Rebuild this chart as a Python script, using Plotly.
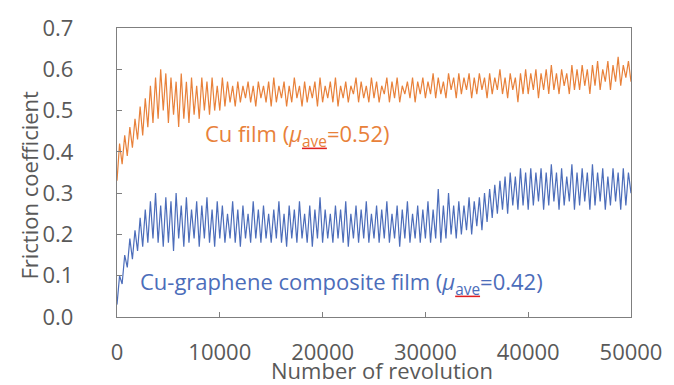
import plotly.graph_objects as go

step = 250
cu_film = [
    0.33, 0.42, 0.37, 0.44, 0.39, 0.46, 0.41, 0.48, 0.43, 0.51, 0.44, 0.53, 0.46, 0.56, 0.47, 0.58, 0.48, 0.60, 0.50, 0.59,
    0.47, 0.58, 0.49, 0.57, 0.46, 0.59, 0.48, 0.57, 0.47, 0.58, 0.49, 0.56, 0.48, 0.58, 0.50, 0.57, 0.49, 0.58, 0.50, 0.56,
    0.50, 0.58, 0.51, 0.57, 0.52, 0.56, 0.51, 0.57, 0.52, 0.56, 0.53, 0.57, 0.52, 0.56, 0.51, 0.57, 0.53, 0.56, 0.52, 0.57,
    0.51, 0.58, 0.52, 0.56, 0.53, 0.57, 0.51, 0.56, 0.52, 0.58, 0.53, 0.56, 0.51, 0.57, 0.52, 0.56, 0.53, 0.57, 0.51, 0.58,
    0.52, 0.56, 0.53, 0.57, 0.52, 0.58, 0.51, 0.56, 0.53, 0.57, 0.52, 0.56, 0.54, 0.58, 0.52, 0.57, 0.53, 0.56, 0.52, 0.58,
    0.53, 0.57, 0.52, 0.56, 0.54, 0.58, 0.52, 0.57, 0.53, 0.58, 0.52, 0.56, 0.54, 0.57, 0.53, 0.58, 0.52, 0.57, 0.54, 0.58,
    0.53, 0.57, 0.54, 0.59, 0.53, 0.58, 0.54, 0.57, 0.53, 0.59, 0.55, 0.58, 0.53, 0.59, 0.54, 0.58, 0.55, 0.59, 0.53, 0.58,
    0.54, 0.59, 0.55, 0.58, 0.53, 0.59, 0.54, 0.58, 0.55, 0.60, 0.54, 0.58, 0.53, 0.59, 0.55, 0.58, 0.52, 0.59, 0.54, 0.60,
    0.54, 0.59, 0.55, 0.60, 0.53, 0.59, 0.55, 0.60, 0.54, 0.61, 0.55, 0.59, 0.54, 0.60, 0.56, 0.59, 0.54, 0.61, 0.55, 0.60,
    0.55, 0.61, 0.56, 0.60, 0.54, 0.61, 0.56, 0.62, 0.55, 0.60, 0.57, 0.62, 0.55, 0.61, 0.57, 0.63, 0.56, 0.61, 0.58, 0.62, 0.57,
]
cu_graphene = [
    0.03, 0.10, 0.08, 0.15, 0.12, 0.19, 0.14, 0.21, 0.16, 0.24, 0.17, 0.26, 0.18, 0.28, 0.19, 0.30, 0.18, 0.27, 0.17, 0.29,
    0.18, 0.28, 0.16, 0.30, 0.19, 0.27, 0.17, 0.29, 0.18, 0.26, 0.19, 0.28, 0.17, 0.27, 0.19, 0.29, 0.18, 0.26, 0.17, 0.28,
    0.19, 0.27, 0.18, 0.25, 0.19, 0.28, 0.18, 0.26, 0.17, 0.27, 0.19, 0.25, 0.18, 0.28, 0.19, 0.26, 0.18, 0.27, 0.19, 0.25,
    0.18, 0.26, 0.19, 0.28, 0.18, 0.25, 0.17, 0.27, 0.19, 0.26, 0.18, 0.28, 0.19, 0.25, 0.18, 0.27, 0.17, 0.26, 0.19, 0.29,
    0.18, 0.26, 0.19, 0.25, 0.18, 0.27, 0.19, 0.26, 0.18, 0.28, 0.17, 0.25, 0.19, 0.27, 0.18, 0.26, 0.19, 0.28, 0.18, 0.25,
    0.19, 0.27, 0.18, 0.26, 0.19, 0.28, 0.18, 0.25, 0.19, 0.27, 0.17, 0.26, 0.19, 0.28, 0.18, 0.25, 0.19, 0.27, 0.18, 0.26,
    0.19, 0.28, 0.18, 0.26, 0.19, 0.31, 0.18, 0.27, 0.19, 0.30, 0.20, 0.27, 0.19, 0.28, 0.20, 0.27, 0.21, 0.29, 0.20, 0.28,
    0.22, 0.29, 0.21, 0.30, 0.23, 0.31, 0.24, 0.32, 0.25, 0.33, 0.26, 0.34, 0.25, 0.35, 0.27, 0.34, 0.26, 0.36, 0.27, 0.35,
    0.26, 0.36, 0.27, 0.35, 0.28, 0.36, 0.26, 0.35, 0.27, 0.37, 0.28, 0.35, 0.26, 0.36, 0.27, 0.34, 0.28, 0.37, 0.26, 0.35,
    0.27, 0.36, 0.28, 0.35, 0.26, 0.37, 0.27, 0.35, 0.28, 0.36, 0.26, 0.34, 0.27, 0.36, 0.28, 0.35, 0.26, 0.36, 0.27, 0.35, 0.30,
]
revolutions = [i * step for i in range(len(cu_film))]

x_ticks = [0, 10000, 20000, 30000, 40000, 50000]
y_ticks = [0.0, 0.1, 0.2, 0.3, 0.4, 0.5, 0.6, 0.7]
y_labels = ["0.0", "0.1", "0.2", "0.3", "0.4", "0.5", "0.6", "0.7"]

orange = "#E8813A"
blue = "#4C6DBA"
gray = "#595959"
font_family = "Open Sans"


def ave_sub(color):
    return ("<span style='text-decoration:underline;color:#e02020'>"
            "<span style='color:" + color + "'>ave</span></span>")


fig = go.Figure()
fig.add_trace(go.Scatter(x=revolutions, y=cu_film, mode="lines",
                         line=dict(color=orange, width=1.2), showlegend=False))
fig.add_trace(go.Scatter(x=revolutions, y=cu_graphene, mode="lines",
                         line=dict(color=blue, width=1.2), showlegend=False))

fig.add_annotation(x=17550, y=0.44, xref="x", yref="y", showarrow=False,
                   text="Cu film (<i>μ</i><sub>" + ave_sub(orange) + "</sub>=0.52)",
                   font=dict(family=font_family, size=22, color=orange))
fig.add_annotation(x=21860, y=0.082, xref="x", yref="y", showarrow=False,
                   text="Cu-graphene composite film (<i>μ</i><sub>" + ave_sub(blue) + "</sub>=0.42)",
                   font=dict(family=font_family, size=22, color=blue))

# axis titles
fig.add_annotation(x=0.516, y=-0.185, xref="paper", yref="paper", showarrow=False,
                   xanchor="center", yanchor="middle", text="Number of revolution",
                   font=dict(family=font_family, size=22, color=gray))
fig.add_annotation(x=-0.173, y=0.455, xref="paper", yref="paper", showarrow=False,
                   xanchor="center", yanchor="middle", textangle=-90, text="Friction coefficient",
                   font=dict(family=font_family, size=22, color=gray))

axis_common = dict(showline=True, linecolor="#7f7f7f", linewidth=1.3, mirror=True,
                   showgrid=False, zeroline=False, ticks="inside", ticklen=5,
                   tickcolor="#7f7f7f", tickfont=dict(family=font_family, size=22, color=gray))

fig.update_xaxes(range=[0, 50000], tickvals=x_ticks, ticktext=[str(v) for v in x_ticks],
                 ticklabelstandoff=15, **axis_common)
fig.update_yaxes(range=[0, 0.7], tickvals=y_ticks, ticktext=y_labels,
                 ticklabelstandoff=38, **axis_common)

fig.update_layout(width=674, height=385, margin=dict(l=117, r=36, t=20, b=68),
                  paper_bgcolor="white", plot_bgcolor="white",
                  font=dict(family=font_family))

fig.write_html("out.html", config={"displayModeBar": False},
               post_script="document.body.style.margin='0';")
